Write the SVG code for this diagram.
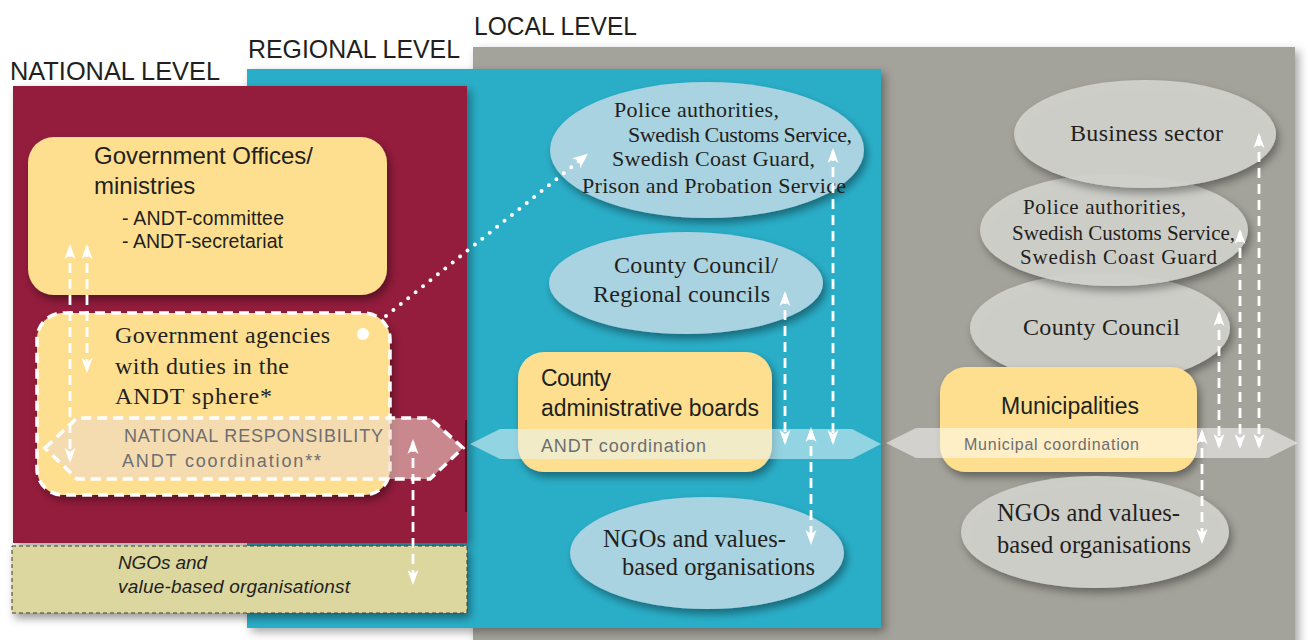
<svg xmlns="http://www.w3.org/2000/svg" width="1308" height="640" viewBox="0 0 1308 640">
<defs>
<style>
.lvl{font-family:"Liberation Sans",Arial,sans-serif;font-size:25px;fill:#231f20}
.sans{font-family:"Liberation Sans",Arial,sans-serif;fill:#231f20}
.serif{font-family:"Liberation Serif","Times New Roman",serif;fill:#231f20}
.band{font-family:"Liberation Sans",Arial,sans-serif;fill:#6d6e71}
.yel{fill:#fddf8f}
.bell{fill:#a9d3e0}
.gell{fill:#d3d2cd;fill-opacity:0.92}
.con{fill:none;stroke:#ffffff;stroke-width:2.8;stroke-dasharray:10 6;marker-start:url(#ah);marker-end:url(#ah)}
</style>
<filter id="sh" x="-20%" y="-20%" width="140%" height="150%">
<feDropShadow dx="3" dy="5" stdDeviation="4" flood-color="#000" flood-opacity="0.4"/>
</filter>
<filter id="psh" x="-10%" y="-10%" width="120%" height="120%">
<feDropShadow dx="4" dy="4" stdDeviation="5" flood-color="#000" flood-opacity="0.35"/>
</filter>
<marker id="ah" viewBox="0 0 15 12" refX="12" refY="6" markerWidth="15" markerHeight="12" markerUnits="userSpaceOnUse" orient="auto-start-reverse">
<path d="M0,0.5 L15,6 L0,11.5 L4,6 z" fill="#ffffff"/>
</marker>
<marker id="ahd" viewBox="0 0 15 14" refX="10" refY="7" markerWidth="15" markerHeight="14" markerUnits="userSpaceOnUse" orient="auto">
<path d="M0,0.5 L15,7 L0,13.5 L4,7 z" fill="#ffffff"/>
</marker>
</defs>
<rect width="1308" height="640" fill="#ffffff"/>

<g id="panels">
<rect x="473" y="47" width="822" height="600" fill="#a4a39b" filter="url(#psh)"/>
<rect x="247" y="69" width="634" height="559" fill="#2caec8" filter="url(#psh)"/>
<rect x="13" y="86" width="454" height="457" fill="#941e3e" filter="url(#psh)"/>
<line x1="466" y1="420" x2="466" y2="512" stroke="#3a1018" stroke-width="1.5"/>
</g>

<g id="labels">
<text class="lvl" x="10" y="80" textLength="210" lengthAdjust="spacingAndGlyphs">NATIONAL LEVEL</text>
<text class="lvl" x="248" y="58" textLength="212" lengthAdjust="spacingAndGlyphs">REGIONAL LEVEL</text>
<text class="lvl" x="474" y="35" textLength="163" lengthAdjust="spacingAndGlyphs">LOCAL LEVEL</text>
</g>

<g id="gov-offices">
<rect class="yel" x="28" y="137" width="359" height="158" rx="26" filter="url(#sh)"/>
<text class="sans" x="94" y="164" font-size="24" textLength="219">Government Offices/</text>
<text class="sans" x="94" y="194" font-size="24">ministries</text>
<text class="sans" x="122" y="225" font-size="19.5" textLength="162">- ANDT-committee</text>
<text class="sans" x="122" y="248" font-size="19.5" textLength="161">- ANDT-secretariat</text>
</g>

<g id="gov-agencies">
<rect class="yel" x="37" y="313" width="353" height="182" rx="26" filter="url(#sh)"/>
<rect x="37" y="313" width="353" height="182" rx="26" fill="none" stroke="#ffffff" stroke-width="3.5" stroke-dasharray="10 6"/>
<text class="serif" x="115" y="343" font-size="24" textLength="215">Government agencies</text>
<text class="serif" x="115" y="374" font-size="24" textLength="174">with duties in the</text>
<text class="serif" x="115" y="404" font-size="24" textLength="157">ANDT sphere*</text>
<circle cx="363" cy="334" r="6" fill="#ffffff"/>
</g>

<g id="national-responsibility">
<polygon points="45,448 77,418 430,418 463,448 430,479 77,479" fill="#f0d8c8" fill-opacity="0.58" stroke="#ffffff" stroke-width="3.5" stroke-dasharray="10 6"/>
<text class="band" x="124" y="442" font-size="18" textLength="259">NATIONAL RESPONSIBILITY</text>
<text class="band" x="122" y="467" font-size="18" textLength="199">ANDT coordination**</text>
</g>

<g id="ngo-national">
<rect x="12" y="546" width="455" height="67" fill="#dcd79f" stroke="#3a3a3a" stroke-width="1" stroke-dasharray="4 3" filter="url(#sh)"/>
<text class="sans" x="118" y="569" font-size="19" font-style="italic" textLength="89">NGOs and</text>
<text class="sans" x="118" y="593" font-size="19" font-style="italic" textLength="232">value-based organisationst</text>
</g>

<g id="police-regional">
<ellipse class="bell" cx="707" cy="150" rx="157" ry="68" filter="url(#sh)"/>
<text class="serif" x="614" y="117" font-size="22" textLength="165">Police authorities,</text>
<text class="serif" x="628" y="142" font-size="22" textLength="224">Swedish Customs Service,</text>
<text class="serif" x="612" y="166" font-size="22" textLength="203">Swedish Coast Guard,</text>
<text class="serif" x="582" y="193" font-size="22" textLength="264">Prison and Probation Service</text>
</g>

<g id="county-council-regional">
<ellipse class="bell" cx="686" cy="283" rx="137" ry="51" filter="url(#sh)"/>
<text class="serif" x="614" y="273" font-size="24" textLength="164">County Council/</text>
<text class="serif" x="593" y="302" font-size="24" textLength="177">Regional councils</text>
</g>

<g id="county-admin-boards">
<rect class="yel" x="518" y="352" width="254" height="120" rx="26" filter="url(#sh)"/>
<text class="sans" x="541" y="386" font-size="23" textLength="70">County</text>
<text class="sans" x="541" y="416" font-size="23" textLength="218">administrative boards</text>
</g>

<g id="andt-coordination-band">
<polygon points="470,444 500,429 852,429 881,444 852,459 500,459" fill="#e8f4f8" fill-opacity="0.55"/>
<text class="band" x="541" y="452" font-size="18" textLength="165">ANDT coordination</text>
</g>

<g id="ngo-regional">
<ellipse class="bell" cx="707" cy="553" rx="137" ry="56" filter="url(#sh)"/>
<text class="serif" x="603" y="547" font-size="24.5" textLength="183">NGOs and values-</text>
<text class="serif" x="622" y="575" font-size="24.5" textLength="193">based organisations</text>
</g>

<g id="county-council-local">
<ellipse class="gell" cx="1100" cy="328" rx="130" ry="55" filter="url(#sh)"/>
<text class="serif" x="1023" y="335" font-size="24" textLength="157">County Council</text>
</g>

<g id="police-local">
<ellipse class="gell" cx="1114" cy="230" rx="134" ry="56" filter="url(#sh)"/>
<text class="serif" x="1023" y="214" font-size="21" textLength="163">Police authorities,</text>
<text class="serif" x="1012" y="240" font-size="21" textLength="223">Swedish Customs Service,</text>
<text class="serif" x="1020" y="264" font-size="21" textLength="197">Swedish Coast Guard</text>
</g>

<g id="business-sector">
<ellipse class="gell" cx="1145" cy="134" rx="131" ry="54" filter="url(#sh)"/>
<text class="serif" x="1070" y="141" font-size="24" textLength="153">Business sector</text>
</g>

<g id="municipalities">
<rect class="yel" x="940" y="367" width="257" height="105" rx="26" filter="url(#sh)"/>
<text class="sans" x="1001" y="414" font-size="23" textLength="138">Municipalities</text>
</g>

<g id="municipal-coordination-band">
<polygon points="886,443 916,428 1268,428 1298,443 1268,458 916,458" fill="#ffffff" fill-opacity="0.5"/>
<text class="band" x="964" y="450" font-size="16" textLength="175">Municipal coordination</text>
</g>

<g id="ngo-local">
<ellipse class="gell" cx="1095" cy="532" rx="134" ry="56" filter="url(#sh)"/>
<text class="serif" x="997" y="521" font-size="24.5" textLength="183">NGOs and values-</text>
<text class="serif" x="997" y="553" font-size="24.5" textLength="194">based organisations</text>
</g>

<g id="connectors">
<line class="con" x1="70" y1="247" x2="70" y2="460"/>
<line class="con" x1="87" y1="247" x2="87" y2="370"/>
<line class="con" x1="413" y1="442" x2="413" y2="582"/>
<path d="M386,316 L584,157" fill="none" stroke="#ffffff" stroke-width="4" stroke-linecap="round" stroke-dasharray="0 9.5" marker-end="url(#ahd)"/>
<line class="con" x1="785" y1="294" x2="785" y2="442"/>
<line class="con" x1="833" y1="151" x2="833" y2="442"/>
<line class="con" x1="811" y1="430" x2="811" y2="542"/>
<line class="con" x1="1259" y1="136" x2="1259" y2="446"/>
<line class="con" x1="1240" y1="232" x2="1240" y2="446"/>
<line class="con" x1="1219" y1="314" x2="1219" y2="446"/>
<line class="con" x1="1202" y1="432" x2="1202" y2="541"/>
</g>
</svg>
